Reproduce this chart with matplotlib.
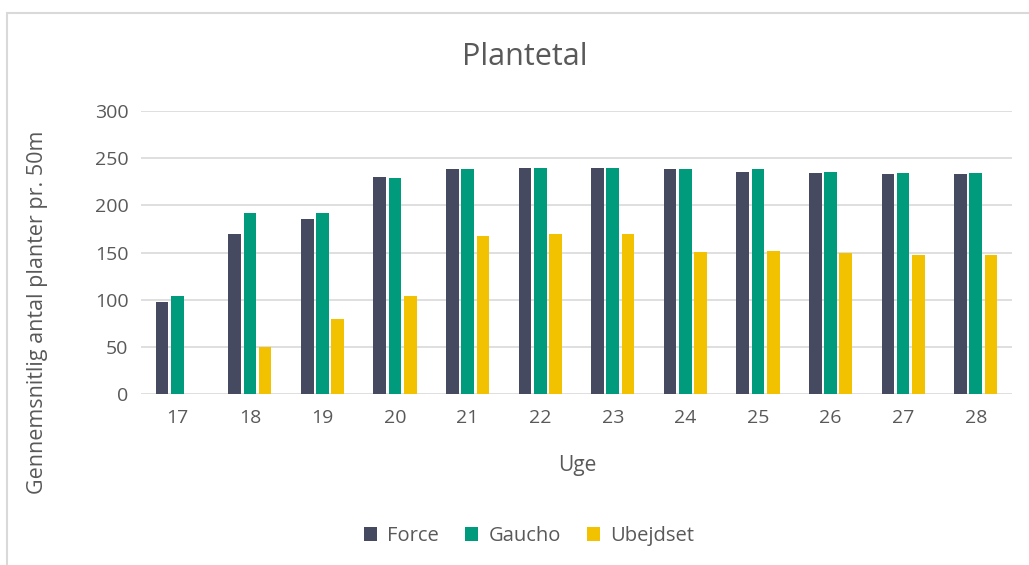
import numpy as np
import matplotlib.pyplot as plt
from matplotlib.patches import Rectangle

plt.rcParams['font.family'] = ['Open Sans', 'DejaVu Sans']

# data
uger = ['17', '18', '19', '20', '21', '22', '23', '24', '25', '26', '27', '28']
force = [98, 170, 185, 230, 238, 240, 240, 238, 235.5, 234, 233, 233]
gaucho = [104, 192, 192, 229, 238, 240, 240, 238, 238, 235.5, 234, 234]
ubejdset = [0, 50, 79, 104, 167.5, 170, 170, 151, 152, 149.5, 147, 147]

serier = ['Force', 'Gaucho', 'Ubejdset']
farver = ['#464a60', '#009b7d', '#f2c200']
tekst = '#595959'

W, H = 1029, 565
fig = plt.figure(figsize=(W / 100, H / 100), dpi=100)
ax = fig.add_axes([141 / W, 1 - 394 / H, (1012 - 141) / W, (394 - 111) / H])

x = np.arange(len(uger))
bw = 0.175
for i, (vals, navn) in enumerate(zip([force, gaucho, ubejdset], serier)):
    ax.bar(x + (i - 1) * 0.21, vals, bw, color=farver[i], label=navn, zorder=3)

ax.set_xlim(-0.5, len(uger) - 0.5)
ax.set_ylim(0, 300)
ax.set_yticks(np.arange(0, 301, 50))
ax.set_xticks(x)
ax.set_xticklabels(uger)
ax.yaxis.grid(True, color='#dcdcdc', linewidth=1.3, zorder=0)
for s in ax.spines.values():
    s.set_visible(False)
ax.tick_params(length=0, colors=tekst, labelsize=14)
ax.tick_params(axis='x', pad=11)
ax.tick_params(axis='y', pad=9)

fig.text(525 / W, 1 - 57 / H, 'Plantetal', ha='center', va='center',
         fontsize=22, color=tekst)
fig.text(577 / W, 1 - 465 / H, 'Uge', ha='center', va='center',
         fontsize=15, color=tekst)
fig.text(38 / W, 1 - 312 / H, 'Gennemsnitlig antal planter pr. 50m',
         ha='center', va='center', rotation=90, fontsize=15.5, color=tekst)

leg = fig.legend(loc='center', bbox_to_anchor=(529 / W, 1 - 536 / H), ncol=3,
                 frameon=False, fontsize=14.5, handlelength=0.65, handleheight=0.65,
                 handletextpad=0.5, columnspacing=1.3)
for t in leg.get_texts():
    t.set_color(tekst)

# chart border
fig.patches.append(Rectangle((7 / W, -0.05), 1.2, 1 - 13 / H + 0.05,
                             transform=fig.transFigure, fill=False,
                             edgecolor='#d9d9d9', linewidth=1.5))

fig.savefig('out.png', dpi=100)
